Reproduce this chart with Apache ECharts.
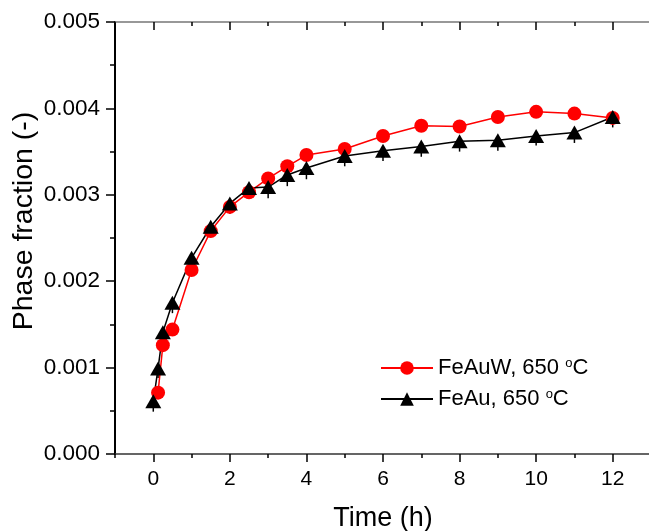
<!DOCTYPE html>
<html>
<head>
<meta charset="utf-8">
<script src="https://cdn.jsdelivr.net/npm/echarts@6/dist/echarts.min.js"></script>
<style>
  html, body { margin: 0; padding: 0; background: #fff; }
  #chart { width: 649px; height: 531px; }
</style>
</head>
<body>
<div id="chart"></div>
<script>
// FeAuW, 650 oC
var timeFeAuW = [0.125, 0.25, 0.5, 1, 1.5, 2, 2.5, 3, 3.5, 4, 5, 6, 7, 8, 9, 10, 11, 12];
var fracFeAuW = [0.00071, 0.00126, 0.00144, 0.00213, 0.00258, 0.00286, 0.00303, 0.00319, 0.00333, 0.00346,
                 0.00353, 0.00368, 0.00380, 0.00379, 0.00390, 0.00396, 0.00394, 0.00389];
// FeAu, 650 oC
var timeFeAu = [0, 0.125, 0.25, 0.5, 1, 1.5, 2, 2.5, 3, 3.5, 4, 5, 6, 7, 8, 9, 10, 11, 12];
var fracFeAu = [0.00061, 0.00099, 0.00141, 0.00175, 0.00227, 0.00263, 0.00290, 0.00308, 0.00309, 0.00323,
                0.00331, 0.00345, 0.00351, 0.00356, 0.00362, 0.00363, 0.00368, 0.00372, 0.00390];
// minus error of FeAu (only the part below the triangles is visible)
var errFeAu = [0.00012, 0.00011, 0.00012, 0.00012, 0.00012, 0.00012, 0.00012, 0.00012, 0.00013, 0.00013,
               0.00013, 0.00012, 0.00012, 0.00012, 0.00012, 0.00012, 0.00011, 0.00012, 0.00012];

var seriesNames = ['FeAuW, 650 oC', 'FeAu, 650 oC'];
var xMajorTicks = [0, 2, 4, 6, 8, 10, 12];
var xMinorTicks = [-1, 1, 3, 5, 7, 9, 11, 13];

var font = 'Liberation Sans, Arial, sans-serif';

function pairs(xs, ys) {
  return xs.map(function (x, i) { return [x, ys[i]]; });
}

var chart = echarts.init(document.getElementById('chart'));

// shared bits for the four horizontal axes (bottom/top, major/minor)
function hAxis(pos, ticks, len, inside, showLine, showLabel) {
  return {
    type: 'value',
    position: pos,
    min: -1,
    max: 13,
    axisLine: { show: showLine, onZero: false, lineStyle: { color: pos === 'top' ? '#777' : '#333', width: 1.5 } },
    axisTick: { show: true, inside: inside, length: len, customValues: ticks, lineStyle: { color: '#000', width: 1.5 } },
    axisLabel: { show: showLabel, customValues: ticks, color: '#000', fontSize: 21, fontFamily: font, margin: 15 },
    splitLine: { show: false }
  };
}

var xBottom = hAxis('bottom', xMajorTicks, 8, false, true, true);
xBottom.name = 'Time (h)';
xBottom.nameLocation = 'middle';
xBottom.nameGap = 51;
xBottom.nameMoveOverlap = false;
xBottom.nameTextStyle = { color: '#000', fontSize: 27, fontFamily: font };

var option = {
  animation: false,
  backgroundColor: '#fff',
  grid: { left: 115, right: -2, top: 22, bottom: 77, containLabel: false, outerBoundsMode: 'none' },
  legend: {
    orient: 'vertical',
    left: 380,
    top: 357,
    padding: 0,
    itemWidth: 52,
    itemHeight: 17,
    itemGap: 9,
    data: seriesNames,
    formatter: function (name) {
      return '{a|' + name.replace(' oC', ' ') + '}{s|o}{a|C}';
    },
    textStyle: {
      color: '#000',
      fontFamily: font,
      rich: {
        a: { fontSize: 22, fontFamily: font, color: '#000', lineHeight: 22 },
        s: { fontSize: 13, fontFamily: font, color: '#000', padding: [0, 0, 9, 0], lineHeight: 13 }
      }
    }
  },
  xAxis: [
    xBottom,
    hAxis('bottom', xMinorTicks, 4, false, false, false),
    hAxis('top', xMajorTicks, 8, true, true, false),
    hAxis('top', xMinorTicks, 4, true, false, false)
  ],
  yAxis: {
    type: 'value',
    min: 0,
    max: 0.005,
    interval: 0.001,
    name: 'Phase fraction (-)',
    nameLocation: 'middle',
    nameGap: 76,
    nameMoveOverlap: false,
    nameTextStyle: { color: '#000', fontSize: 28.5, fontFamily: font, padding: [0, 0, 0, 34] },
    axisLine: { show: true, onZero: false, lineStyle: { color: '#000', width: 2 } },
    axisTick: { show: true, inside: false, length: 9, lineStyle: { color: '#000', width: 1.5 } },
    minorTick: { show: true, splitNumber: 2, length: 5, lineStyle: { color: '#000', width: 1.5 } },
    axisLabel: {
      color: '#000', fontSize: 22.5, fontFamily: font, margin: 15,
      formatter: function (v) { return v.toFixed(3); }
    },
    splitLine: { show: false }
  },
  series: [
    {
      name: seriesNames[0],
      type: 'line',
      xAxisIndex: 0,
      data: pairs(timeFeAuW, fracFeAuW),
      symbol: 'circle',
      symbolSize: 14,
      lineStyle: { color: '#ff0000', width: 1.5 },
      itemStyle: { color: '#ff0000' }
    },
    {
      // error bars for FeAu, drawn below the triangles
      type: 'custom',
      xAxisIndex: 0,
      silent: true,
      z: 2,
      data: timeFeAu.map(function (t, i) { return [t, fracFeAu[i], errFeAu[i]]; }),
      renderItem: function (params, api) {
        var p0 = api.coord([api.value(0), api.value(1)]);
        var p1 = api.coord([api.value(0), api.value(1) - api.value(2)]);
        return {
          type: 'line',
          shape: { x1: p0[0], y1: p0[1], x2: p1[0], y2: p1[1] },
          style: { stroke: '#000', lineWidth: 1.5 }
        };
      }
    },
    {
      name: seriesNames[1],
      type: 'line',
      xAxisIndex: 0,
      z: 3,
      data: pairs(timeFeAu, fracFeAu),
      symbol: 'triangle',
      symbolSize: [16, 14],
      lineStyle: { color: '#000', width: 1.5 },
      itemStyle: { color: '#000' }
    }
  ]
};

chart.setOption(option);
</script>
</body>
</html>
